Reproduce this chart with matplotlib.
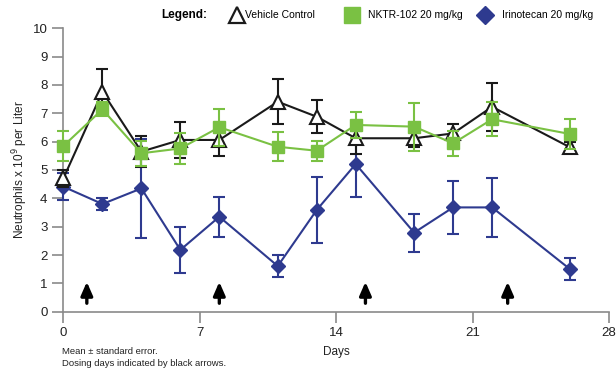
import matplotlib
matplotlib.use("Agg")
import matplotlib.pyplot as plt

plt.rcParams['font.family'] = ['Liberation Sans', 'DejaVu Sans']

days = [0, 2, 4, 6, 8, 11, 13, 15, 18, 20, 22, 26]
vehicle = [4.71, 7.76, 5.65, 6.06, 6.06, 7.41, 6.88, 6.12, 6.12, 6.29, 7.23, 5.80]
vehicle_err = [0.30, 0.80, 0.55, 0.65, 0.55, 0.80, 0.58, 0.55, 0.30, 0.35, 0.85, 0.20]
nktr = [5.85, 7.14, 5.59, 5.76, 6.51, 5.82, 5.68, 6.59, 6.53, 5.94, 6.79, 6.27]
nktr_err = [0.53, 0.25, 0.45, 0.55, 0.65, 0.52, 0.35, 0.47, 0.85, 0.45, 0.60, 0.53]
irino = [4.41, 3.80, 4.35, 2.18, 3.35, 1.61, 3.59, 5.21, 2.79, 3.68, 3.68, 1.50]
irino_err = [0.47, 0.22, 1.75, 0.80, 0.70, 0.40, 1.17, 1.17, 0.67, 0.94, 1.05, 0.39]
dose_days = [1.2, 8.0, 15.5, 22.8]
xticks = [0, 7, 14, 21, 28]
yticks = list(range(0, 11))

BLUE = '#2e3a8f'
GREEN = '#7ac143'
BLACK = '#1a1a1a'

fig = plt.figure(figsize=(6.16, 3.70), dpi=100)
ax = fig.add_axes([0.103, 0.1576, 0.8856, 0.7659])


def unclip(container):
    for art in container.get_children():
        art.set_clip_on(False)


unclip(ax.errorbar(days, irino, yerr=irino_err, color=BLUE, marker='D', markersize=7,
                   lw=1.5, elinewidth=1.5, capsize=4, capthick=1.5, zorder=3))
unclip(ax.errorbar(days, vehicle, yerr=vehicle_err, color=BLACK, marker='^', markersize=10,
                   markerfacecolor='white', markeredgecolor=BLACK, markeredgewidth=1.5,
                   lw=1.5, elinewidth=1.5, capsize=4, capthick=1.5, zorder=4))
unclip(ax.errorbar(days, nktr, yerr=nktr_err, color=GREEN, marker='s', markersize=8,
                   lw=1.5, elinewidth=1.5, capsize=4, capthick=1.5, zorder=5))

for d in dose_days:
    ax.annotate('', xy=(d, 1.15), xytext=(d, 0.2),
                arrowprops=dict(arrowstyle='-|>,head_width=0.35,head_length=0.8',
                                color='black', lw=2.4))

ax.set_xlim(0, 28)
ax.set_ylim(0, 10)
ax.set_xticks(xticks)
ax.set_yticks(yticks)
for s in ['top', 'right']:
    ax.spines[s].set_visible(False)
for s in ['left', 'bottom']:
    ax.spines[s].set_color('#8a8a8a')
    ax.spines[s].set_linewidth(1.2)
    ax.spines[s].set_zorder(1)
ax.tick_params(axis='both', colors='#8a8a8a', length=8, width=1.2, labelsize=9.5,
               labelcolor='#222222')
ax.tick_params(axis='x', pad=3)
ax.set_xlabel('Days', fontsize=8.5, labelpad=5, color='#222222')
ax.set_ylabel('Neutrophils x 10$^9$ per Liter', fontsize=8.5, color='#222222', labelpad=2)

fig.text(0.101, 1 - 351 / 370, 'Mean \u00b1 standard error.',
         fontsize=6.8, color='#222222', va='center', ha='left')
fig.text(0.101, 1 - 363 / 370, 'Dosing days indicated by black arrows.',
         fontsize=6.8, color='#222222', va='center', ha='left')

# legend
ly = 1 - 15 / 370
fig.text(0.262, ly, 'Legend:', fontsize=8.5, fontweight='bold', va='center', ha='left')
fig.lines.append(plt.Line2D([0.385], [ly], transform=fig.transFigure, marker='^',
                            markersize=12, markerfacecolor='white', markeredgecolor=BLACK,
                            markeredgewidth=1.6, linestyle='none'))
fig.text(0.397, ly, 'Vehicle Control', fontsize=7.5, va='center', ha='left')
fig.lines.append(plt.Line2D([0.5715], [ly], transform=fig.transFigure, marker='s',
                            markersize=11, color=GREEN, linestyle='none'))
fig.text(0.597, ly, 'NKTR-102 20 mg/kg', fontsize=7.5, va='center', ha='left')
fig.lines.append(plt.Line2D([0.788], [ly], transform=fig.transFigure, marker='D',
                            markersize=9, color=BLUE, linestyle='none'))
fig.text(0.815, ly, 'Irinotecan 20 mg/kg', fontsize=7.5, va='center', ha='left')

fig.savefig('out.png', dpi=100)
